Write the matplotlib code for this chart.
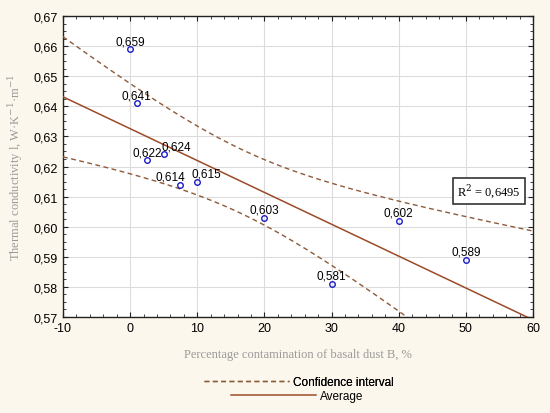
import matplotlib
matplotlib.use("Agg")
import matplotlib.pyplot as plt
import numpy as np
from matplotlib.lines import Line2D
from matplotlib.ticker import AutoMinorLocator, FuncFormatter, MultipleLocator

# measured values: contamination (%) vs thermal conductivity
contamination = [0, 1, 2.5, 5, 7.5, 10, 20, 30, 40, 50]
conductivity = [0.659, 0.641, 0.622, 0.624, 0.614, 0.615, 0.603, 0.581, 0.602, 0.589]
point_labels = ["0,659", "0,641", "0,622", "0,624", "0,614", "0,615",
                "0,603", "0,581", "0,602", "0,589"]
r2_text = "R$^2$ = 0,6495"
t_crit = 2.306  # t(0.975, n-2 = 8)

# label nudges (points) so the numbers sit like the original
label_dx = [0, 0, 0, 9, -7, 6.5, 0, 0, 0, 0]

BG = "#fcf7ec"
LINE = "#9c4a28"
DASH = "#8e5a3a"
GRAY = "#9a9a9a"

plt.rcParams.update({
    "font.family": ["Liberation Sans", "DejaVu Sans"],
    "font.size": 9,
})

fig = plt.figure(figsize=(5.5, 4.14), dpi=100, facecolor=BG)
ax = fig.add_axes([0.1145, 0.2319, 0.8545, 0.727])
ax.set_facecolor("white")

x = np.array(contamination)
y = np.array(conductivity)
n = len(x)
slope, icpt = np.polyfit(x, y, 1)
resid = y - (slope * x + icpt)
s = np.sqrt((resid ** 2).sum() / (n - 2))
sxx = ((x - x.mean()) ** 2).sum()

xs = np.linspace(-10, 60, 200)
fit = slope * xs + icpt
half = t_crit * s * np.sqrt(1 / n + (xs - x.mean()) ** 2 / sxx)

ax.plot(xs, fit, color=LINE, lw=1.1, zorder=3)
ax.plot(xs, fit + half, color=DASH, lw=1.0, ls=(0, (3.5, 2.5)), zorder=3)
ax.plot(xs, fit - half, color=DASH, lw=1.0, ls=(0, (3.5, 2.5)), zorder=3)
ax.plot(x, y, ls="none", marker="o", ms=4, mfc="none", mec="#1a1acc",
        mew=1.0, zorder=4)

for xi, yi, lab, dx in zip(x, y, point_labels, label_dx):
    ax.annotate(lab, (xi, yi), xytext=(dx, 1.5), textcoords="offset points",
                ha="center", va="bottom", fontsize=8.5, color="black", zorder=5)

ax.text(0.906, 0.419, r2_text, transform=ax.transAxes, ha="center",
        va="center", fontsize=9, family=["Liberation Serif", "DejaVu Serif"],
        math_fontfamily="dejavuserif",
        bbox=dict(boxstyle="square,pad=0.35", fc="white", ec="#333333", lw=1.2),
        zorder=6)

ax.set_xlim(-10, 60)
ax.set_ylim(0.57, 0.67)
ax.xaxis.set_major_locator(MultipleLocator(10))
ax.yaxis.set_major_locator(MultipleLocator(0.01))
ax.xaxis.set_minor_locator(AutoMinorLocator(5))
ax.yaxis.set_minor_locator(AutoMinorLocator(4))
ax.xaxis.set_major_formatter(FuncFormatter(lambda v, p: f"{v:.0f}"))
ax.yaxis.set_major_formatter(FuncFormatter(lambda v, p: f"{v:.2f}".replace(".", ",")))
ax.tick_params(which="both", direction="in", top=True, right=True,
               colors="#222222", labelcolor="black", labelsize=9)
ax.tick_params(which="major", length=3.5, width=0.8)
ax.tick_params(which="minor", length=2, width=0.6)
ax.grid(True, which="major", color="#dcdcdc", lw=0.8, zorder=0)
ax.set_axisbelow(True)
for sp in ax.spines.values():
    sp.set_color("#222222")
    sp.set_linewidth(1.0)

serif = ["Liberation Serif", "DejaVu Serif"]
ax.set_xlabel("Percentage contamination of basalt dust B, %", color=GRAY,
              fontsize=9, family=serif, labelpad=10)
ax.set_ylabel("Thermal conductivity l, W·K$^{-1}$·m$^{-1}$", color=GRAY,
              fontsize=9, family=serif, labelpad=6, math_fontfamily="dejavuserif")

h_ci = Line2D([], [], color=DASH, lw=1.0, ls=(0, (3.5, 2.5)))
h_avg = Line2D([], [], color=LINE, lw=1.1)
leg1 = fig.legend([h_ci], ["Confidence interval"], loc="center",
                  bbox_to_anchor=(0.543, 1 - 383 / 414), frameon=False,
                  handlelength=7.2, handletextpad=0.3, fontsize=8.5,
                  borderpad=0, borderaxespad=0)
fig.add_artist(leg1)
fig.legend([h_avg], ["Average"], loc="center",
           bbox_to_anchor=(0.54, 1 - 397 / 414), frameon=False,
           handlelength=7.2, handletextpad=0.3, fontsize=8.5,
           borderpad=0, borderaxespad=0)

fig.savefig("out.png", dpi=100, facecolor=BG)
